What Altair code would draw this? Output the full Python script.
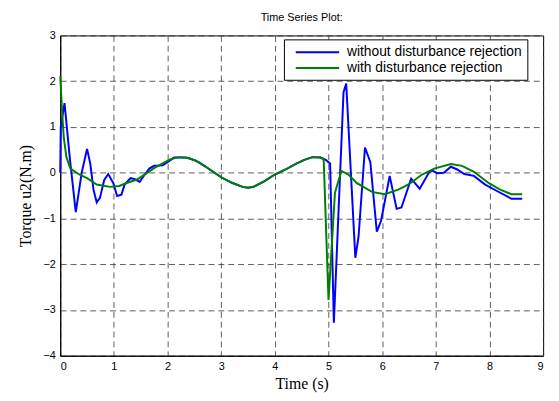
import altair as alt
import pandas as pd

# Series: without disturbance rejection (blue)
t_without = [0.0, 0.01, 0.08, 0.18, 0.29, 0.40, 0.50, 0.56, 0.62, 0.68, 0.74, 0.82, 0.895, 0.99,
             1.06, 1.14, 1.20, 1.31, 1.39, 1.48, 1.57, 1.66, 1.75, 1.91, 2.0, 2.12, 2.34, 2.52,
             2.7, 2.85, 3.0, 3.2, 3.4, 3.5, 3.6, 3.8, 4.0, 4.2, 4.4, 4.55, 4.7, 4.85, 4.95, 5.03,
             5.10, 5.28, 5.33, 5.50, 5.56, 5.68, 5.78, 5.90, 5.98, 6.14, 6.27, 6.36, 6.54, 6.70,
             6.88, 6.94, 7.03, 7.15, 7.28, 7.40, 7.53, 7.71, 7.92, 8.14, 8.41, 8.61]
v_without = [0.0, 1.0, 1.52, 0.3, -0.86, 0.0, 0.52, 0.2, -0.37, -0.65, -0.55, -0.16, -0.03, -0.23,
             -0.51, -0.48, -0.26, -0.12, -0.14, -0.2, -0.05, 0.09, 0.15, 0.16, 0.23, 0.33, 0.33, 0.27,
             0.14, 0.02, -0.1, -0.22, -0.31, -0.33, -0.31, -0.19, -0.04, 0.07, 0.2, 0.28, 0.34, 0.33, 0.28, 0.2,
             -3.28, 1.76, 1.95, -1.86, -1.40, 0.55, 0.23, -1.29, -1.05, -0.07, -0.79, -0.76, -0.13, -0.35,
             0.02, 0.04, -0.01, 0.0, 0.13, 0.07, -0.03, -0.07, -0.26, -0.4, -0.57, -0.57]

# Series: with disturbance rejection (green)
t_with = [0.0, 0.035, 0.066, 0.115, 0.19, 0.37, 0.5, 0.68, 0.93, 1.1, 1.25, 1.43, 1.6, 1.75, 1.9,
          2.05, 2.2, 2.4, 2.6, 2.8, 3.0, 3.2, 3.4, 3.5, 3.6, 3.8, 4.0, 4.2, 4.4, 4.55, 4.7, 4.85,
          4.91, 5.0, 5.12, 5.24, 5.37, 5.53, 5.81, 6.05, 6.3, 6.42, 6.54, 6.73, 6.97, 7.28, 7.49,
          7.71, 7.99, 8.2, 8.41, 8.61]
v_with = [2.11, 1.33, 0.77, 0.34, 0.09, -0.05, -0.12, -0.26, -0.31, -0.29, -0.22, -0.15, -0.02, 0.1, 0.2,
          0.29, 0.34, 0.32, 0.22, 0.06, -0.1, -0.22, -0.31, -0.33, -0.31, -0.19, -0.04, 0.07, 0.2, 0.28, 0.34, 0.33,
          0.3, -2.78, -0.44, 0.04, -0.04, -0.23, -0.42, -0.47, -0.37, -0.3, -0.22, -0.05, 0.09, 0.19, 0.15,
          0.02, -0.23, -0.37, -0.47, -0.47]

series_names = ["without disturbance rejection", "with disturbance rejection"]
series_colors = ["#0000ff", "#008000"]
x_ticks = list(range(0, 10))
y_ticks = list(range(-4, 4))

df_without = pd.DataFrame({"t": t_without, "v": v_without, "series": series_names[0]})
df_with = pd.DataFrame({"t": t_with, "v": v_with, "series": series_names[1]})

color = alt.Color(
    "series:N",
    scale=alt.Scale(domain=series_names, range=series_colors),
    legend=alt.Legend(
        title=None,
        orient="none",
        legendX=227,
        legendY=4,
        symbolType="M-0.1429,0L6.143,0",
        symbolSize=196,
        symbolStrokeWidth=2,
        labelFontSize=14,
        labelFont="Liberation Sans",
        labelColor="black",
        labelLimit=0,
        strokeColor="black",
        fillColor="white",
        padding=5,
        rowPadding=1,
        labelOffset=43,
    ),
)

x = alt.X(
    "t:Q",
    scale=alt.Scale(domain=[0, 9], nice=False),
    axis=alt.Axis(
        title="Time (s)",
        values=x_ticks,
        format="d",
        ticks=False,
        labelPadding=5,
        titlePadding=4,
    ),
)
y = alt.Y(
    "v:Q",
    scale=alt.Scale(domain=[-4, 3], nice=False),
    axis=alt.Axis(
        title="Torque u2(N.m)",
        values=y_ticks,
        format="d",
        ticks=False,
        labelPadding=5,
        titlePadding=10,
    ),
)

line_blue = alt.Chart(df_without).mark_line(strokeWidth=2).encode(x=x, y=y, color=color)
line_green = alt.Chart(df_with).mark_line(strokeWidth=2).encode(x=x, y=y, color=color)

chart = (
    alt.layer(line_blue, line_green)
    .properties(
        width=490,
        height=325,
        autosize="none",
        padding={"left": 53, "top": 25, "right": 8, "bottom": 35},
        title=alt.TitleParams(
            "Time Series Plot:",
            fontSize=11,
            fontWeight="normal",
            font="Liberation Sans",
            color="black",
            offset=7,
        ),
    )
    .configure_view(stroke="black", strokeWidth=1)
    .configure_axis(
        grid=True,
        gridColor="#333333",
        gridDash=[6, 4],
        gridOpacity=0.8,
        domainColor="black",
        labelFont="Liberation Sans",
        labelFontSize=11,
        labelColor="black",
        titleFont="Liberation Serif",
        titleFontSize=16,
        titleFontWeight="normal",
        titleColor="black",
    )
)

chart.save("out.html", embed_options={"renderer": "svg", "actions": False})
